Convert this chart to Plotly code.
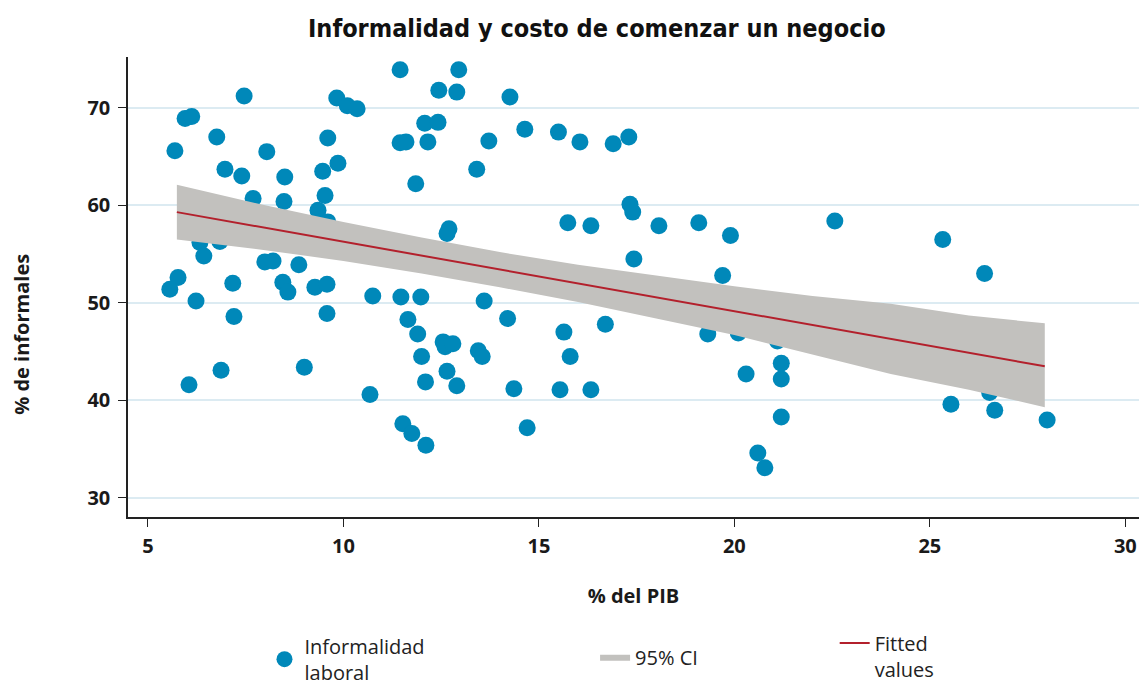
import plotly.graph_objects as go

# Scatter: costo de comenzar un negocio (% del PIB) vs % de informales
costo_pib = [
    11.45, 12.95, 7.46, 5.95, 6.12, 9.83, 10.1, 10.35, 12.44, 12.9,
    14.26, 12.08, 12.42, 11.45, 11.6, 12.16, 6.76, 9.6, 5.69, 8.04,
    6.97, 7.4, 8.5, 9.47, 9.86, 11.85, 7.69, 8.48, 9.53, 9.35,
    9.6, 12.7, 12.65, 6.33, 6.84, 6.43, 7.99, 8.2, 8.86, 5.77,
    5.56, 7.17, 8.45, 8.58, 9.27, 9.58, 6.23, 7.2, 9.58, 10.75,
    11.47, 11.98, 11.65, 11.9, 12.55, 12.6, 12.8, 12.0, 12.65, 12.1,
    6.87, 6.05, 9.0, 10.68, 11.52, 11.75, 12.11, 13.41, 13.72, 14.64,
    15.5, 16.05, 16.9, 17.3, 17.33, 17.4, 15.74, 16.33, 18.07, 19.09,
    19.9, 17.43, 19.7, 13.6, 14.2, 13.45, 13.55, 12.9, 14.36, 15.54,
    16.33, 15.64, 15.8, 16.7, 19.32, 20.1, 20.3, 21.2, 21.2, 21.2,
    21.1, 20.6, 20.78, 14.7, 16.4, 22.57, 25.33, 26.4, 25.54, 26.66,
    26.53, 28.0,
]
informales = [
    73.9, 73.9, 71.2, 68.9, 69.1, 71.0, 70.2, 69.9, 71.8, 71.6,
    71.1, 68.4, 68.5, 66.4, 66.5, 66.5, 67.0, 66.9, 65.6, 65.5,
    63.7, 63.0, 62.9, 63.5, 64.3, 62.2, 60.7, 60.4, 61.0, 59.5,
    58.3, 57.6, 57.1, 56.2, 56.3, 54.8, 54.2, 54.3, 53.9, 52.6,
    51.4, 52.0, 52.1, 51.1, 51.6, 51.9, 50.2, 48.6, 48.9, 50.7,
    50.6, 50.6, 48.3, 46.8, 46.0, 45.5, 45.8, 44.5, 43.0, 41.9,
    43.1, 41.6, 43.4, 40.6, 37.6, 36.6, 35.4, 63.7, 66.6, 67.8,
    67.5, 66.5, 66.3, 67.0, 60.1, 59.3, 58.2, 57.9, 57.9, 58.2,
    56.9, 54.5, 52.8, 50.2, 48.4, 45.1, 44.5, 41.5, 41.2, 41.1,
    41.1, 47.0, 44.5, 47.8, 46.8, 46.9, 42.7, 43.8, 42.2, 38.3,
    46.1, 34.6, 33.1, 37.2, 50.8, 58.4, 56.5, 53.0, 39.6, 39.0,
    40.8, 38.0,
]

# Fitted values (straight line, endpoints)
fit_x = [5.74, 27.94]
fit_y = [59.3, 43.5]

# 95% CI band
ci_x = [5.74, 8, 10, 12, 14, 16, 18, 20, 22, 24, 26, 27.94]
ci_upper = [62.1, 60.0, 58.3, 56.7, 55.2, 53.9, 52.8, 51.7, 50.7, 49.9, 48.7, 47.9]
ci_lower = [56.5, 55.4, 54.3, 53.0, 51.6, 50.1, 48.4, 46.7, 44.7, 42.7, 41.1, 39.3]

BLUE = '#0088b9'
GREY = '#c2c1be'
RED = '#b3202c'
TICK_FONT = dict(family='Open Sans', size=20, color='#1a1a1a', weight='bold')
LEG_FONT = dict(family='Open Sans', size=20, color='#222')

fig = go.Figure()

fig.add_trace(go.Scatter(
    x=costo_pib, y=informales, mode='markers',
    name='Informalidad<br>laboral', legend='legend',
    marker=dict(size=17, color=BLUE, line=dict(width=0))))

fig.add_trace(go.Scatter(
    x=ci_x + ci_x[::-1], y=ci_upper + ci_lower[::-1],
    mode='lines', fill='toself', fillcolor=GREY,
    line=dict(width=0, color=GREY), name='95% CI', legend='legend2'))

fig.add_trace(go.Scatter(
    x=fit_x, y=fit_y, mode='lines', name='Fitted<br>values', legend='legend3',
    line=dict(color=RED, width=2)))

leg = dict(xanchor='left', yanchor='middle', font=LEG_FONT)

# figure is a bit taller than the window so the bottom legends don't push the plot up;
# the extra strip is hidden by the page (overflow hidden)
fig.update_layout(
    width=1139, height=700,
    margin=dict(l=128, r=0, t=57, b=183),
    paper_bgcolor='white', plot_bgcolor='white',
    title=dict(text='Informalidad y costo de comenzar un negocio',
               x=0.524, xanchor='center', y=1 - 28 / 700, yanchor='middle',
               font=dict(family='DejaVu Sans Condensed, DejaVu Sans',
                         size=25, color='#111', weight='bold')),
    showlegend=True,
    legend=dict(leg, x=0.135, y=-0.309),
    legend2=dict(leg, x=0.462, y=-0.304),
    legend3=dict(leg, x=0.699, y=-0.302, valign='top'),
    annotations=[dict(text='% de informales', textangle=-90, showarrow=False,
                      xref='paper', yref='paper', x=-0.105, y=0.398,
                      xanchor='center', yanchor='middle', font=TICK_FONT)],
)

fig.update_xaxes(
    range=[4.49, 30.35], tickvals=[5, 10, 15, 20, 25, 30],
    showgrid=False, zeroline=False, automargin=False,
    showline=True, linecolor='#222', linewidth=1.5,
    ticks='outside', ticklen=8, tickcolor='#222', tickfont=TICK_FONT,
    ticklabelstandoff=2,
    title=dict(text='% del PIB', standoff=31, font=TICK_FONT))

fig.update_yaxes(
    range=[28.05, 75.2], tickvals=[30, 40, 50, 60, 70],
    showgrid=True, gridcolor='#dcebf2', gridwidth=1.5, zeroline=False, automargin=False,
    showline=True, linecolor='#222', linewidth=1.5,
    ticks='outside', ticklen=8, tickcolor='#222', tickfont=TICK_FONT,
    ticklabelstandoff=4)

fig.write_html('out.html', config={'displayModeBar': False},
               post_script="document.body.style.margin='0px';"
                           "document.body.style.overflow='hidden';")
